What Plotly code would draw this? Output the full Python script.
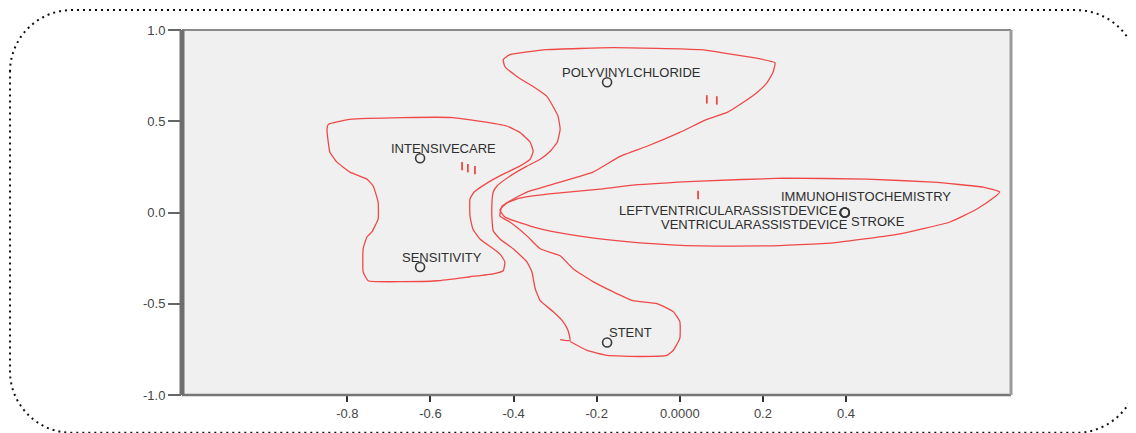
import plotly.graph_objects as go

# ---------------- data ----------------
terms = ["POLYVINYLCHLORIDE", "INTENSIVECARE", "SENSITIVITY", "STENT",
         "IMMUNOHISTOCHEMISTRY", "LEFTVENTRICULARASSISTDEVICE",
         "VENTRICULARASSISTDEVICE", "STROKE"]
dim1 = [-0.175, -0.625, -0.625, -0.175, 0.397, 0.397, 0.397, 0.397]
dim2 = [0.714, 0.297, -0.299, -0.712, 0.0, 0.0, 0.0, 0.0]

x_tick_vals = [-0.8, -0.6, -0.4, -0.2, 0.0, 0.2, 0.4]
x_tick_text = ["-0.8", "-0.6", "-0.4", "-0.2", "0.0000", "0.2", "0.4"]
y_tick_vals = [-1.0, -0.5, 0.0, 0.5, 1.0]
y_tick_text = ["-1.0", "-0.5", "0.0", "0.5", "1.0"]

# cluster outlines (data coordinates)
cluster1_x = [-0.849, -0.846, -0.794, -0.666, -0.546, -0.417, -0.385, -0.360, -0.353, -0.360,
              -0.385, -0.425, -0.464, -0.495, -0.505, -0.505, -0.498, -0.481, -0.449, -0.433,
              -0.421, -0.425, -0.449, -0.505, -0.584, -0.666, -0.750, -0.762, -0.762, -0.753,
              -0.741, -0.726, -0.726, -0.738, -0.753, -0.794, -0.825, -0.842, -0.846, -0.849]
cluster1_y = [0.456, 0.483, 0.510, 0.520, 0.520, 0.474, 0.439, 0.385, 0.336, 0.292,
              0.254, 0.210, 0.161, 0.112, 0.074, -0.019, -0.090, -0.145, -0.199, -0.227,
              -0.270, -0.319, -0.336, -0.352, -0.374, -0.379, -0.374, -0.325, -0.199, -0.134,
              -0.106, -0.035, 0.057, 0.145, 0.183, 0.221, 0.276, 0.330, 0.385, 0.456]

cluster2_x = [-0.288, -0.264, -0.269, -0.281, -0.305, -0.336, -0.348, -0.356, -0.368, -0.401,
              -0.433, -0.449, -0.452, -0.452, -0.449, -0.440, -0.409, -0.368, -0.336, -0.312,
              -0.295, -0.288, -0.293, -0.305, -0.320, -0.353, -0.392, -0.421, -0.425, -0.409,
              -0.320, -0.161, 0.049, 0.162, 0.229, 0.224, 0.210, 0.186, 0.152, 0.114,
              0.065, 0.000, -0.079, -0.144, -0.209, -0.288, -0.368, -0.409, -0.428, -0.433,
              -0.409, -0.368, -0.336, -0.288, -0.257, -0.209, -0.161, -0.113, -0.055, -0.016,
              0.000, 0.000, -0.016, -0.031, -0.096, -0.175, -0.223, -0.264]
cluster2_y = [-0.696, -0.701, -0.647, -0.598, -0.543, -0.483, -0.418, -0.325, -0.270, -0.199,
              -0.145, -0.101, -0.035, 0.057, 0.112, 0.145, 0.199, 0.254, 0.292, 0.336,
              0.385, 0.456, 0.527, 0.581, 0.636, 0.690, 0.745, 0.800, 0.838, 0.865,
              0.892, 0.903, 0.892, 0.854, 0.821, 0.767, 0.712, 0.658, 0.603, 0.549,
              0.510, 0.439, 0.363, 0.308, 0.221, 0.166, 0.112, 0.063, 0.035, -0.019,
              -0.052, -0.128, -0.199, -0.237, -0.308, -0.379, -0.434, -0.483, -0.499, -0.543,
              -0.598, -0.690, -0.756, -0.783, -0.789, -0.783, -0.756, -0.707]

cluster3_x = [-0.433, -0.416, -0.385, -0.320, -0.192, -0.113, 0.049, 0.248, 0.450, 0.609,
              0.730, 0.770, 0.754, 0.715, 0.650, 0.530, 0.369, 0.210, 0.049, -0.096,
              -0.192, -0.288, -0.360, -0.421, -0.433]
cluster3_y = [0.014, 0.052, 0.079, 0.101, 0.128, 0.150, 0.172, 0.188, 0.183, 0.166,
              0.139, 0.112, 0.079, 0.019, -0.052, -0.117, -0.166, -0.183, -0.183, -0.166,
              -0.145, -0.112, -0.074, -0.025, 0.014]

# small red level marks
marks_x = [0.065, 0.089, -0.524, -0.510, -0.493, 0.044]
marks_y = [0.620, 0.614, 0.254, 0.243, 0.232, 0.096]

# ---------------- styles ----------------
label_style = {  # xshift, yshift (px), xanchor
    "POLYVINYLCHLORIDE": (24, 10, "center"),
    "INTENSIVECARE": (23, 10, "center"),
    "SENSITIVITY": (22, 10, "center"),
    "STENT": (23, 10, "center"),
    "IMMUNOHISTOCHEMISTRY": (21, 16, "center"),
    "LEFTVENTRICULARASSISTDEVICE": (-7, 2, "right"),
    "VENTRICULARASSISTDEVICE": (4, -12, "right"),
    "STROKE": (5, -9, "left"),
}
RED = "#f04848"
FONT = "Liberation Sans, Arial, sans-serif"

OFF = 8  # page body margin of the browser
W, H = 1136 - OFF, 433 - OFF
ML, MR, MT, MB = 182 - OFF, 125, 30 - OFF, 36
PW, PH = W - ML - MR, H - MT - MB


def paper(px, py):
    # screen pixel -> paper coordinates
    fx, fy = px - OFF, py - OFF
    return (fx - ML) / PW, (H - MB - fy) / PH


fig = go.Figure()

for cx, cy in [(cluster1_x, cluster1_y), (cluster2_x, cluster2_y), (cluster3_x, cluster3_y)]:
    fig.add_trace(go.Scatter(x=cx, y=cy, mode="lines",
                             line=dict(color=RED, width=1.3, shape="spline", smoothing=0.4),
                             hoverinfo="skip", showlegend=False))

fig.add_trace(go.Scatter(x=marks_x, y=marks_y, mode="markers",
                         marker=dict(symbol="line-ns", size=6,
                                     line=dict(color=RED, width=1.8)),
                         hoverinfo="skip", showlegend=False))

fig.add_trace(go.Scatter(x=dim1, y=dim2, mode="markers", text=terms,
                         marker=dict(symbol="circle-open", size=9, color="#3a3a3a",
                                     line=dict(width=1.6, color="#3a3a3a")),
                         showlegend=False))

for t, xv, yv in zip(terms, dim1, dim2):
    dx, dy, anc = label_style[t]
    fig.add_annotation(x=xv, y=yv, text=t, showarrow=False, xshift=dx, yshift=dy,
                       xanchor=anc, yanchor="middle", borderpad=0,
                       font=dict(family=FONT, size=13, color="#2e2e2e"))

shapes = []
# plot frame
shapes.append(dict(type="line", xref="paper", yref="paper", x0=0, x1=1, y0=1, y1=1,
                   line=dict(color="#8a8a8a", width=2)))
shapes.append(dict(type="line", xref="paper", yref="paper", x0=0, x1=1, y0=0, y1=0,
                   line=dict(color="#777777", width=2.5)))
shapes.append(dict(type="line", xref="paper", yref="paper", x0=1, x1=1, y0=0, y1=1,
                   line=dict(color="#9a9a9a", width=3)))
shapes.append(dict(type="line", xref="paper", yref="paper", x0=0, x1=0, y0=0, y1=1,
                   line=dict(color="#6e6e6e", width=5)))

# dotted rounded frame around the whole picture
L, T, R, B, r = 10, 10, 1138, 435, 62
k = 0.5523 * r
pts = [
    ("M", [(L, T + r)]),
    ("C", [(L, T + r - k), (L + r - k, T), (L + r, T)]),
    ("L", [(R - r, T)]),
    ("C", [(R - r + k, T), (R, T + r - k), (R, T + r)]),
    ("L", [(R, B - r)]),
    ("C", [(R, B - r + k), (R - r + k, B), (R - r, B)]),
    ("L", [(L + r, B)]),
    ("C", [(L + r - k, B), (L, B - r + k), (L, B - r)]),
]
path = ""
for cmd, ps in pts:
    path += cmd + " " + " ".join("%.5f,%.5f" % paper(a, b) for a, b in ps) + " "
path += "Z"
shapes.append(dict(type="path", xref="paper", yref="paper", path=path,
                   line=dict(color="#111111", width=2, dash="2px,4px")))

fig.update_layout(
    width=W, height=H, autosize=False,
    margin=dict(l=ML, r=MR, t=MT, b=MB, pad=0),
    paper_bgcolor="white", plot_bgcolor="#f0f0f0",
    shapes=shapes,
    xaxis=dict(range=[-1.198, 0.797], tickvals=x_tick_vals, ticktext=x_tick_text,
               ticks="outside", ticklen=6, tickwidth=2, tickcolor="#333333",
               showgrid=False, zeroline=False, showline=False,
               tickfont=dict(family=FONT, size=13, color="#454545")),
    yaxis=dict(range=[-1, 1], tickvals=y_tick_vals, ticktext=y_tick_text,
               ticks="outside", ticklen=13, tickwidth=2, tickcolor="#666666",
               showgrid=False, zeroline=False, showline=False,
               tickfont=dict(family=FONT, size=13, color="#454545")),
    showlegend=False,
)

fig.write_html("out.html", config={"displayModeBar": False})
